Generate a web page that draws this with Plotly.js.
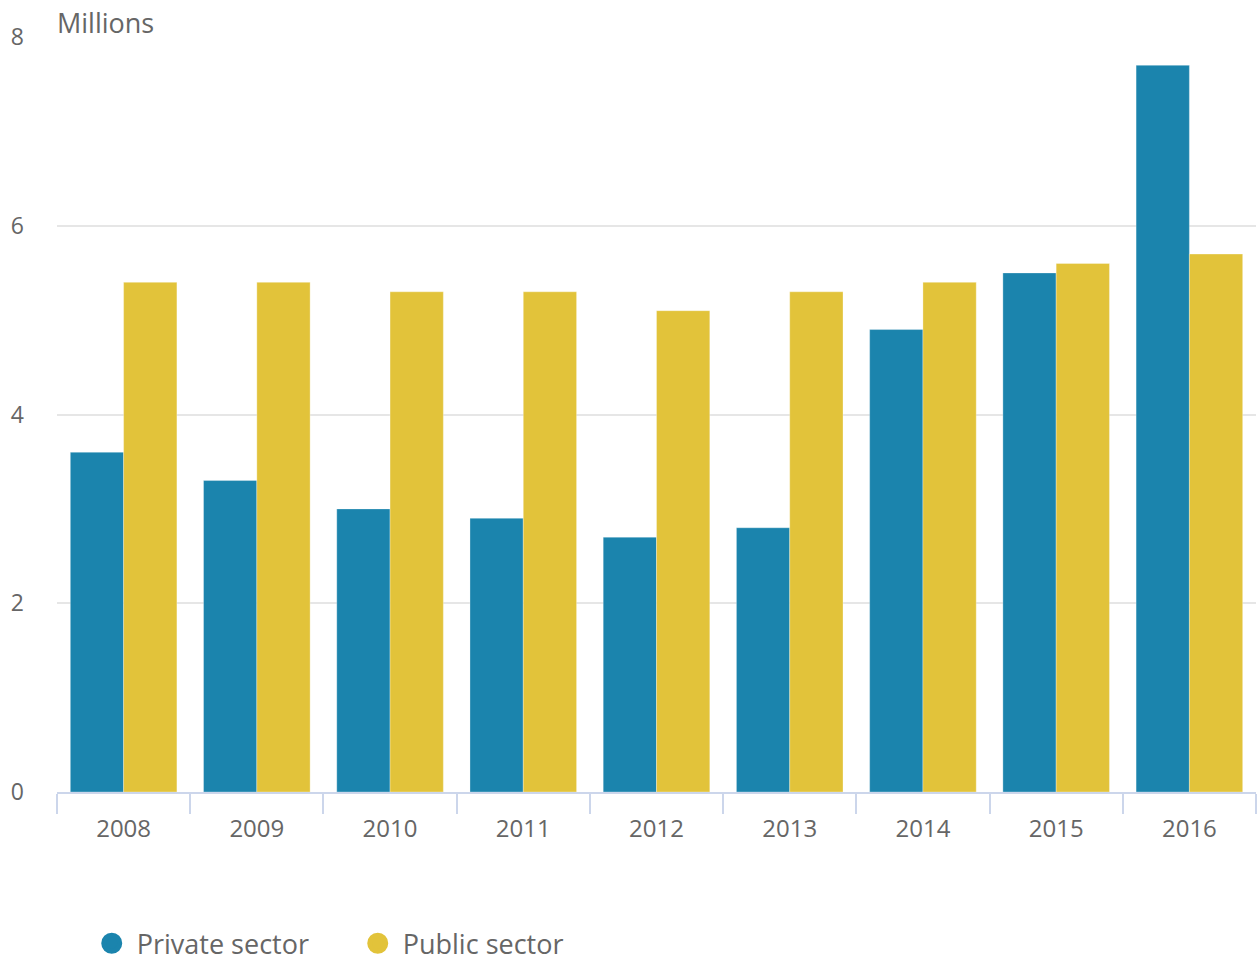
<!DOCTYPE html>
<html>
<head>
<meta charset="utf-8">
<script src="https://cdn.plot.ly/plotly-3.0.1.min.js"></script>
<style>html,body{margin:0;padding:0;background:#fff;}#chart{width:1257px;height:963px;}</style>
</head>
<body>
<div id="chart"></div>
<script>
const years = ['2008','2009','2010','2011','2012','2013','2014','2015','2016'];
const privateSector = [3.6, 3.3, 3.0, 2.9, 2.7, 2.8, 4.9, 5.5, 7.7];
const publicSector = [5.4, 5.4, 5.3, 5.3, 5.1, 5.3, 5.4, 5.6, 5.7];
const seriesNames = ['Private sector', 'Public sector'];
const colors = ['#1b84ad', '#e2c33a'];
const textColor = '#666666';
const font = 'Open Sans, sans-serif';

const traces = [
  {type:'bar', x: years, y: privateSector, name: seriesNames[0], showlegend:false,
   marker:{color: colors[0], line:{color:'rgba(255,255,255,0.3)', width:1}}, hoverinfo:'x+y'},
  {type:'bar', x: years, y: publicSector, name: seriesNames[1], showlegend:false,
   marker:{color: colors[1], line:{color:'rgba(255,255,255,0.3)', width:1}}, hoverinfo:'x+y'},
  {type:'scatter', mode:'markers', x:[null], y:[null], name: seriesNames[0], showlegend:true,
   marker:{color: colors[0], size:26, symbol:'circle', line:{color: colors[0], width:5}}},
  {type:'scatter', mode:'markers', x:[null], y:[null], name: seriesNames[1], showlegend:true,
   marker:{color: colors[1], size:26, symbol:'circle', line:{color: colors[1], width:5}}}
];

const layout = {
  width:1257, height:963,
  margin:{l:57, r:1, t:37, b:171, pad:0},
  paper_bgcolor:'#ffffff', plot_bgcolor:'#ffffff',
  font:{family:font, color:textColor, size:22},
  barmode:'group', bargap:0.2, bargroupgap:0,
  xaxis:{type:'category', showgrid:false, showline:true, linecolor:'#ccd6eb', linewidth:2,
    ticks:'outside', tickson:'boundaries', ticklen:20, tickwidth:2, tickcolor:'#ccd6eb',
    ticklabelstandoff:14, automargin:false,
    tickfont:{size:24, color:textColor, family:font}, zeroline:false},
  yaxis:{range:[0,8], dtick:2, tick0:0, showgrid:true, gridcolor:'#e6e6e6', gridwidth:2,
    zeroline:false, showline:false, ticks:'', ticklabelstandoff:32, automargin:false,
    tickfont:{size:23, color:textColor, family:font}},
  legend:{orientation:'h', x:0.069, xref:'container', xanchor:'left', y:0.02, yref:'container', yanchor:'middle',
    entrywidth:211, entrywidthmode:'pixels', itemwidth:40,
    font:{size:27, color:textColor, family:font}, itemsizing:'trace', bgcolor:'rgba(0,0,0,0)'},
  annotations:[{text:'Millions', xref:'paper', yref:'paper', x:0, y:1, xanchor:'left', yanchor:'middle',
    yshift:15, xshift:-2, showarrow:false, font:{size:27, color:textColor, family:font}}]
};

Plotly.newPlot('chart', traces, layout, {displayModeBar:false, staticPlot:false});
</script>
</body>
</html>
